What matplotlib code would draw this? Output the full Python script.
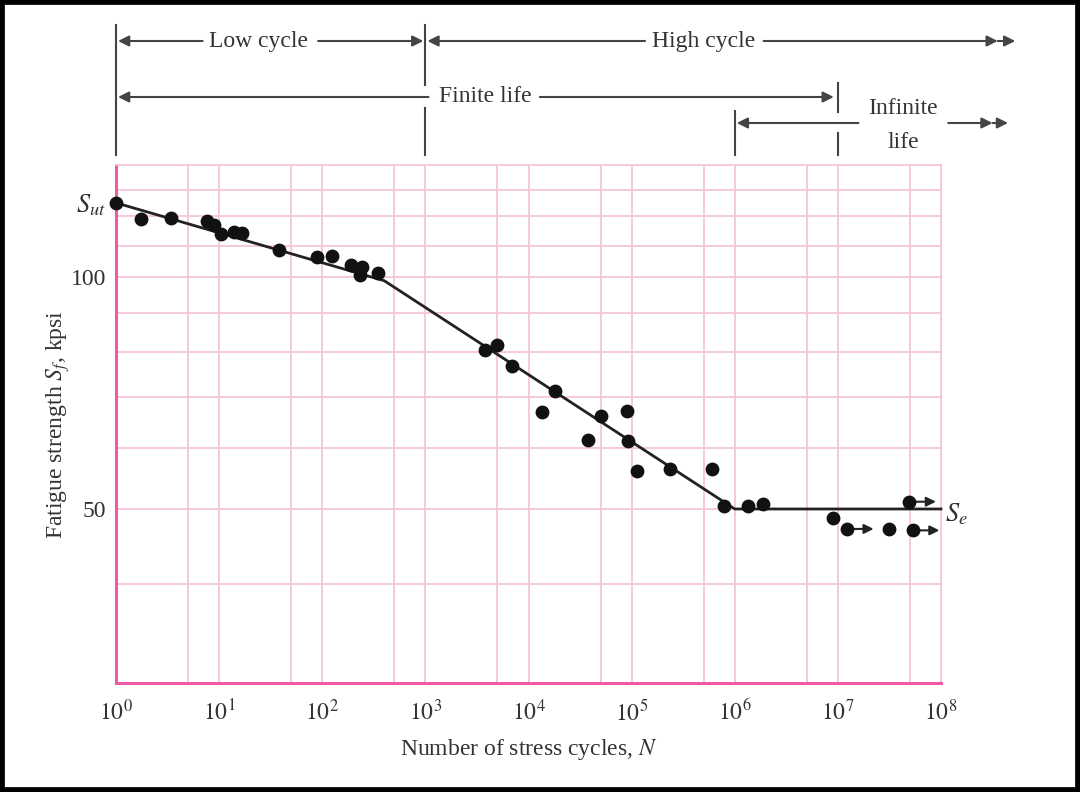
import numpy as np
import matplotlib
matplotlib.use("Agg")
import matplotlib.pyplot as plt
from matplotlib.transforms import blended_transform_factory
from matplotlib.patches import Rectangle

plt.rcParams['font.family'] = ['Liberation Serif', 'DejaVu Serif']
plt.rcParams['mathtext.fontset'] = 'stix'

# test data (cycles, kpsi)
cycles = [1, 1.75, 3.4, 7.7, 9, 10.4, 13.9, 16.5, 38, 88, 123, 191, 243, 234, 344,
          3750, 4900, 6900, 13600, 18000, 38000, 50000, 90000, 93000, 112000,
          234000, 600000, 780000, 1.34e6, 1.87e6, 8.9e6]
strength = [125, 119, 119.5, 118.5, 117, 114, 114.5, 114.2, 108.4, 106.3, 106.5, 103.7,
            103.3, 100.6, 101.4, 80.4, 81.8, 76.7, 66.8, 71.1, 61.5, 66, 67, 61.2, 56,
            56.3, 56.3, 50.5, 50.4, 50.8, 48.7]

# run-outs (no failure), some with arrows
runout_cycles = [1.22e7, 3.1e7, 5.3e7, 4.9e7]
runout_strength = [47.1, 47.1, 46.9, 51.1]
runout_arrow = [True, False, True, True]

# S-N line
sn_cycles = [1, 400, 1e6, 1e8]
sn_strength = [125, 99, 50, 50]

S_ut = 125
S_e = 50

xticks = [10.0 ** k for k in range(9)]
xticklabels = [f'$10^{{{k}}}$' for k in range(9)]
yticks = [50, 100, S_ut]
yticklabels = ['50', '100', '$S_{ut}$']

grid_x = [m * 10.0 ** k for k in range(8) for m in (1, 5)] + [1e8]
grid_y = [40, 60, 70, 80, 90, 110, 120, 130]

pink = '#f7c4da'
magenta = '#ee5aa6'
txt = '#333333'
FS = 17

fig = plt.figure(figsize=(10.8, 7.92), dpi=100)
ax = fig.add_axes([116 / 1080, 1 - 683 / 792, 825 / 1080, 518 / 792])
ax.set_xscale('log')
ax.set_yscale('log')
ax.set_xlim(1, 1e8)
ax.set_ylim(29.7, 140)

for gx in grid_x:
    ax.axvline(gx, color=pink, lw=1.3, zorder=0)
for gy in grid_y + [S_e, 100]:
    ax.axhline(gy, color=pink, lw=1.3, zorder=0)

for s in ('top', 'right'):
    ax.spines[s].set_color(pink)
    ax.spines[s].set_linewidth(1.3)
for s in ('left', 'bottom'):
    ax.spines[s].set_color(magenta)
    ax.spines[s].set_linewidth(2.2)

ax.set_xticks(xticks)
ax.set_xticklabels(xticklabels, fontsize=FS, color=txt)
ax.xaxis.set_minor_locator(matplotlib.ticker.NullLocator())
ax.set_yticks(yticks)
ax.set_yticklabels(yticklabels, fontsize=FS, color=txt)
ax.yaxis.set_minor_locator(matplotlib.ticker.NullLocator())
ax.tick_params(axis='x', length=0, pad=12)
ax.tick_params(axis='y', length=0, pad=7)
ax.get_yticklabels()[2].set_fontsize(19)

ax.plot(sn_cycles, sn_strength, color='#222222', lw=2, zorder=3, clip_on=False)
ax.scatter(cycles, strength, s=80, color='#111111', zorder=4, clip_on=False)
ax.scatter(runout_cycles, runout_strength, s=80, color='#111111', zorder=4, clip_on=False)
for c, s, a in zip(runout_cycles, runout_strength, runout_arrow):
    if a:
        ax.annotate('', xy=(c * 10 ** 0.26, s), xytext=(c, s),
                    arrowprops=dict(arrowstyle='-|>', color='#222222', lw=1.5,
                                    mutation_scale=14, shrinkA=0, shrinkB=0))

ax.text(1.1e8, S_e * 0.985, '$S_e$', fontsize=19, va='center', ha='left', color=txt)

ax.set_xlabel('Number of stress cycles, $N$', fontsize=FS, color=txt, labelpad=8)
ax.set_ylabel('Fatigue strength $S_f$, kpsi', fontsize=FS, color=txt, labelpad=-1)

# regime brackets above the axes
tr = blended_transform_factory(ax.transData, fig.transFigure)
def fy(py):
    return 1 - py / 792

ink = '#444444'

def head(x_from, x_to, py):
    ax.annotate('', xy=(x_to, fy(py)), xytext=(x_from, fy(py)),
                xycoords=tr, textcoords=tr,
                arrowprops=dict(arrowstyle='-|>', color=ink, lw=1.5,
                                mutation_scale=16, shrinkA=0, shrinkB=0))

def vline(x, py0, py1):
    ax.plot([x, x], [fy(py0), fy(py1)], color=ink, lw=1.5, transform=tr, clip_on=False)

vline(1, 25, 155)
vline(1e3, 25, 85)
vline(1e3, 108, 155)
vline(1e6, 111, 155)
vline(1e7, 83, 112)
vline(1e7, 133, 155)

# Low cycle
head(10 ** 0.84, 10 ** 0.02, 41)
head(10 ** 1.96, 10 ** 2.98, 41)
ax.text(10 ** 1.38, fy(41), 'Low cycle', transform=tr, fontsize=FS, ha='center', va='center', color=txt)
# High cycle
head(10 ** 5.13, 10 ** 3.02, 41)
head(10 ** 6.28, 10 ** 8.55, 41)
head(10 ** 8.55, 10 ** 8.72, 41)
ax.text(10 ** 5.7, fy(41), 'High cycle', transform=tr, fontsize=FS, ha='center', va='center', color=txt)
# Finite life
head(10 ** 3.03, 10 ** 0.02, 97)
head(10 ** 4.11, 10 ** 6.96, 97)
ax.text(10 ** 3.58, fy(97), 'Finite life', transform=tr, fontsize=FS, ha='center', va='center', color=txt)
# Infinite life
head(10 ** 7.2, 10 ** 6.02, 123)
head(10 ** 8.07, 10 ** 8.5, 123)
head(10 ** 8.5, 10 ** 8.65, 123)
ax.text(10 ** 7.63, fy(108), 'Infinite', transform=tr, fontsize=FS, ha='center', va='center', color=txt)
ax.text(10 ** 7.63, fy(142), 'life', transform=tr, fontsize=FS, ha='center', va='center', color=txt)

# black frame of the scanned figure
fig.add_artist(Rectangle((0.0, 0.0), 1.0, 1.0, transform=fig.transFigure,
                         fill=False, edgecolor='black', lw=7, zorder=10))

fig.savefig('out.png', dpi=100)
